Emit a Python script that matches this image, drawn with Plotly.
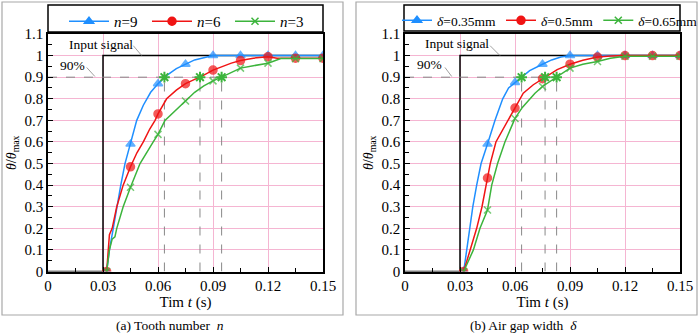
import plotly.graph_objects as go

# ---------------- data ----------------
MARKER_T = [0.032, 0.045, 0.06, 0.075, 0.09, 0.105, 0.12, 0.135, 0.15]

# (a) tooth number n
a_n9_t = [0.032, 0.0335, 0.0356, 0.0375, 0.0397, 0.042, 0.045, 0.0484, 0.052, 0.056, 0.06, 0.065, 0.07, 0.075, 0.08, 0.085, 0.09, 0.105, 0.12, 0.135, 0.15]
a_n9_y = [0, 0.1, 0.2, 0.3, 0.4, 0.5, 0.59, 0.7, 0.77, 0.83, 0.87, 0.91, 0.94, 0.96, 0.98, 0.99, 1.0, 1.0, 1.0, 1.0, 1.0]
a_n6_t = [0.032, 0.0335, 0.035, 0.0375, 0.041, 0.045, 0.0485, 0.052, 0.0555, 0.0584, 0.06, 0.0647, 0.07, 0.075, 0.08, 0.083, 0.09, 0.095, 0.1, 0.105, 0.112, 0.12, 0.125, 0.135, 0.15]
a_n6_y = [0, 0.17, 0.2, 0.3, 0.4, 0.485, 0.55, 0.6, 0.66, 0.7, 0.73, 0.8, 0.84, 0.87, 0.89, 0.9, 0.933, 0.95, 0.965, 0.977, 0.988, 0.995, 0.988, 0.988, 0.988]
a_n3_t = [0.032, 0.0335, 0.035, 0.0365, 0.0375, 0.041, 0.045, 0.0502, 0.0574, 0.06, 0.0638, 0.07, 0.075, 0.08, 0.085, 0.09, 0.0947, 0.1, 0.105, 0.112, 0.12, 0.127, 0.135, 0.15]
a_n3_y = [0, 0.1, 0.15, 0.16, 0.2, 0.3, 0.39, 0.5, 0.6, 0.635, 0.7, 0.75, 0.79, 0.83, 0.86, 0.883, 0.9, 0.92, 0.942, 0.953, 0.965, 0.986, 0.986, 0.986]
a_cross_t = [0.0635, 0.0829, 0.0947]

# (b) air gap width delta
b_d35_t = [0.032, 0.0336, 0.0351, 0.037, 0.0391, 0.0415, 0.045, 0.0491, 0.0533, 0.0565, 0.06, 0.0636, 0.068, 0.075, 0.08, 0.085, 0.09, 0.105, 0.12, 0.135, 0.15]
b_d35_y = [0, 0.1, 0.2, 0.3, 0.4, 0.5, 0.59, 0.7, 0.8, 0.85, 0.875, 0.9, 0.93, 0.96, 0.98, 0.993, 1.0, 1.0, 1.0, 1.0, 1.0]
b_d50_t = [0.032, 0.0355, 0.0391, 0.042, 0.045, 0.0465, 0.0496, 0.0564, 0.06, 0.0645, 0.07, 0.075, 0.0764, 0.083, 0.09, 0.097, 0.105, 0.112, 0.12, 0.135, 0.15]
b_d50_y = [0, 0.1, 0.2, 0.3, 0.433, 0.5, 0.6, 0.7, 0.757, 0.826, 0.865, 0.893, 0.9, 0.935, 0.96, 0.978, 0.993, 0.998, 1.0, 1.0, 1.0]
b_d65_t = [0.032, 0.0373, 0.0409, 0.045, 0.0473, 0.0505, 0.0545, 0.059, 0.06, 0.064, 0.068, 0.0709, 0.075, 0.0827, 0.09, 0.097, 0.105, 0.112, 0.12, 0.135, 0.15]
b_d65_y = [0, 0.1, 0.2, 0.285, 0.4, 0.5, 0.6, 0.69, 0.709, 0.76, 0.8, 0.826, 0.857, 0.9, 0.942, 0.96, 0.973, 0.988, 0.997, 0.997, 0.997]
b_cross_t = [0.0636, 0.0764, 0.0827]

INPUT_T = [0, 0.03, 0.03, 0.15]
INPUT_Y = [0, 0, 1, 1]
LEVEL = 0.9

BLUE, RED, GREEN = "#1f8fff", "#f01414", "#3cb43c"
FONT = "Liberation Serif"
GRID = "#f5b5d2"

fig = go.Figure()


def msizes(ts, size):
    return [size if round(t, 4) in MARKER_T else 0 for t in ts]


def add_series(t, y, name, color, symbol, size, xa, ya, legend):
    mk = dict(symbol=symbol, color=color, line=dict(color=color, width=1.5))
    fig.add_trace(go.Scatter(
        x=t, y=y, name=name, mode="lines+markers", showlegend=False,
        line=dict(color=color, width=1.5),
        marker=dict(size=msizes(t, size), **mk),
        xaxis=xa, yaxis=ya))
    # legend entry for this series
    fig.add_trace(go.Scatter(
        x=[None], y=[None], name=name, mode="lines+markers",
        line=dict(color=color, width=1.5), marker=dict(size=size, **mk),
        xaxis=xa, yaxis=ya, legend=legend))


def add_panel(xa, ya, series, cross, legend):
    fig.add_trace(go.Scatter(x=INPUT_T, y=INPUT_Y, mode="lines",
                             line=dict(color="black", width=1.5),
                             showlegend=False, xaxis=xa, yaxis=ya))
    fig.add_trace(go.Scatter(x=[0, max(cross)], y=[LEVEL, LEVEL], mode="lines",
                             line=dict(color="#888888", width=1, dash="dash"),
                             showlegend=False, xaxis=xa, yaxis=ya))
    for c in cross:
        fig.add_trace(go.Scatter(x=[c, c], y=[0, LEVEL], mode="lines",
                                 line=dict(color="#888888", width=1, dash="dash"),
                                 showlegend=False, xaxis=xa, yaxis=ya))
    for (t, y, name, color, symbol, size) in series:
        add_series(t, y, name, color, symbol, size, xa, ya, legend)
    fig.add_trace(go.Scatter(x=cross, y=[LEVEL] * len(cross), mode="markers",
                             marker=dict(symbol="asterisk-open", size=9, color=GREEN,
                                         line=dict(color=GREEN, width=2)),
                             showlegend=False, xaxis=xa, yaxis=ya))


add_panel("x", "y", [
    (a_n9_t, a_n9_y, "<i>n</i>=9", BLUE, "triangle-up", 8),
    (a_n6_t, a_n6_y, "<i>n</i>=6", RED, "circle", 8),
    (a_n3_t, a_n3_y, "<i>n</i>=3", GREEN, "x-thin-open", 7),
], a_cross_t, "legend")
add_panel("x2", "y2", [
    (b_d35_t, b_d35_y, "<i>δ</i>=0.35mm", BLUE, "triangle-up", 8),
    (b_d50_t, b_d50_y, "<i>δ</i>=0.5mm", RED, "circle", 8),
    (b_d65_t, b_d65_y, "<i>δ</i>=0.65mm", GREEN, "x-thin-open", 7),
], b_cross_t, "legend2")

W, H = 700, 333
yb, yt = 1 - 271.5 / H, 1 - 34 / H

xcommon = dict(range=[0, 0.15], dtick=0.03, tick0=0, showgrid=True, gridcolor=GRID,
               gridwidth=1, zeroline=False, showline=True, linecolor="black",
               linewidth=1.5, mirror=True, ticks="inside", ticklen=5,
               tickcolor="black", tickfont=dict(family=FONT, size=15, color="black"),
               minor=dict(dtick=0.015, ticks="inside", ticklen=4, tickcolor="black",
                          showgrid=False),
               title=dict(text="Tim <i>t</i> (s)", font=dict(family=FONT, size=15, color="black"),
                          standoff=3))
ycommon = dict(range=[0, 1.1], dtick=0.1, tick0=0, showgrid=True, gridcolor=GRID,
               gridwidth=1, zeroline=False, showline=True, linecolor="black",
               linewidth=1.5, mirror=True, ticks="inside", ticklen=5,
               tickcolor="black", tickfont=dict(family=FONT, size=15, color="black"),
               minor=dict(dtick=0.05, ticks="inside", ticklen=4, tickcolor="black",
                          showgrid=False),
               title=dict(text="<i>θ</i>/<i>θ</i><sub>max</sub>",
                          font=dict(family=FONT, size=14, color="black"), standoff=5))

fig.update_layout(
    width=W, height=H, margin=dict(l=0, r=0, t=0, b=0, autoexpand=False),
    paper_bgcolor="white", plot_bgcolor="white",
    font=dict(family=FONT, size=14, color="black"),
    xaxis=dict(domain=[48 / W, 323 / W], anchor="y", **xcommon),
    yaxis=dict(domain=[yb, yt], anchor="x", **ycommon),
    xaxis2=dict(domain=[405 / W, 680 / W], anchor="y2", **xcommon),
    yaxis2=dict(domain=[yb, yt], anchor="x2", **ycommon),
    legend=dict(orientation="h", x=64 / W, y=1 - 5 / H, xanchor="left", yanchor="top",
                bgcolor="rgba(0,0,0,0)", borderwidth=0, itemsizing="trace",
                itemwidth=40, entrywidth=28, entrywidthmode="pixels",
                font=dict(family=FONT, size=15)),
    legend2=dict(orientation="h", x=397 / W, y=1 - 5 / H, xanchor="left", yanchor="top",
                 bgcolor="rgba(0,0,0,0)", borderwidth=0, itemsizing="trace",
                 itemwidth=30, font=dict(family=FONT, size=13.5)),
    showlegend=True,
)

shapes = [
    dict(type="rect", xref="paper", yref="paper", x0=2 / W, x1=343 / W,
         y0=1 - 315 / H, y1=1 - 2 / H, line=dict(color="#a8a8a8", width=1.2)),
    dict(type="rect", xref="paper", yref="paper", x0=356 / W, x1=697 / W,
         y0=1 - 315 / H, y1=1 - 2 / H, line=dict(color="#a8a8a8", width=1.2)),
    dict(type="rect", xref="paper", yref="paper", x0=48 / W, x1=323 / W,
         y0=1 - 32 / H, y1=1 - 5 / H, line=dict(color="black", width=1.5)),
    dict(type="rect", xref="paper", yref="paper", x0=404 / W, x1=680 / W,
         y0=1 - 31 / H, y1=1 - 5 / H, line=dict(color="black", width=1.5)),
    dict(type="line", xref="x", yref="y", x0=0.0465, y0=1.046, x1=0.0511, y1=1.0,
         line=dict(color="#888888", width=0.8)),
    dict(type="line", xref="x", yref="y", x0=0.0211, y0=0.945, x1=0.0256, y1=0.903,
         line=dict(color="#888888", width=0.8)),
    dict(type="line", xref="x2", yref="y2", x0=0.0464, y0=1.046, x1=0.0518, y1=1.0,
         line=dict(color="#888888", width=0.8)),
    dict(type="line", xref="x2", yref="y2", x0=0.0218, y0=0.945, x1=0.0255, y1=0.903,
         line=dict(color="#888888", width=0.8)),
]
fig.update_layout(shapes=shapes)

ann_font = dict(family=FONT, size=13.5, color="black")
annotations = [
    dict(xref="x", yref="y", x=0.0102, y=1.05, text="Input signal", showarrow=False,
         xanchor="left", yanchor="middle", font=ann_font),
    dict(xref="x", yref="y", x=0.0055, y=0.953, text="90%", showarrow=False,
         xanchor="left", yanchor="middle", font=ann_font),
    dict(xref="x2", yref="y2", x=0.0098, y=1.055, text="Input signal", showarrow=False,
         xanchor="left", yanchor="middle", font=ann_font),
    dict(xref="x2", yref="y2", x=0.0052, y=0.958, text="90%", showarrow=False,
         xanchor="left", yanchor="middle", font=ann_font),
    dict(xref="paper", yref="paper", x=170 / W, y=1 - 325 / H,
         text="(a) Tooth number  <i>n</i>", showarrow=False,
         xanchor="center", yanchor="middle", font=ann_font),
    dict(xref="paper", yref="paper", x=523 / W, y=1 - 325 / H,
         text="(b) Air gap width  <i>δ</i>", showarrow=False,
         xanchor="center", yanchor="middle", font=ann_font),
]
fig.update_layout(annotations=annotations)

fig.write_html("out.html")
